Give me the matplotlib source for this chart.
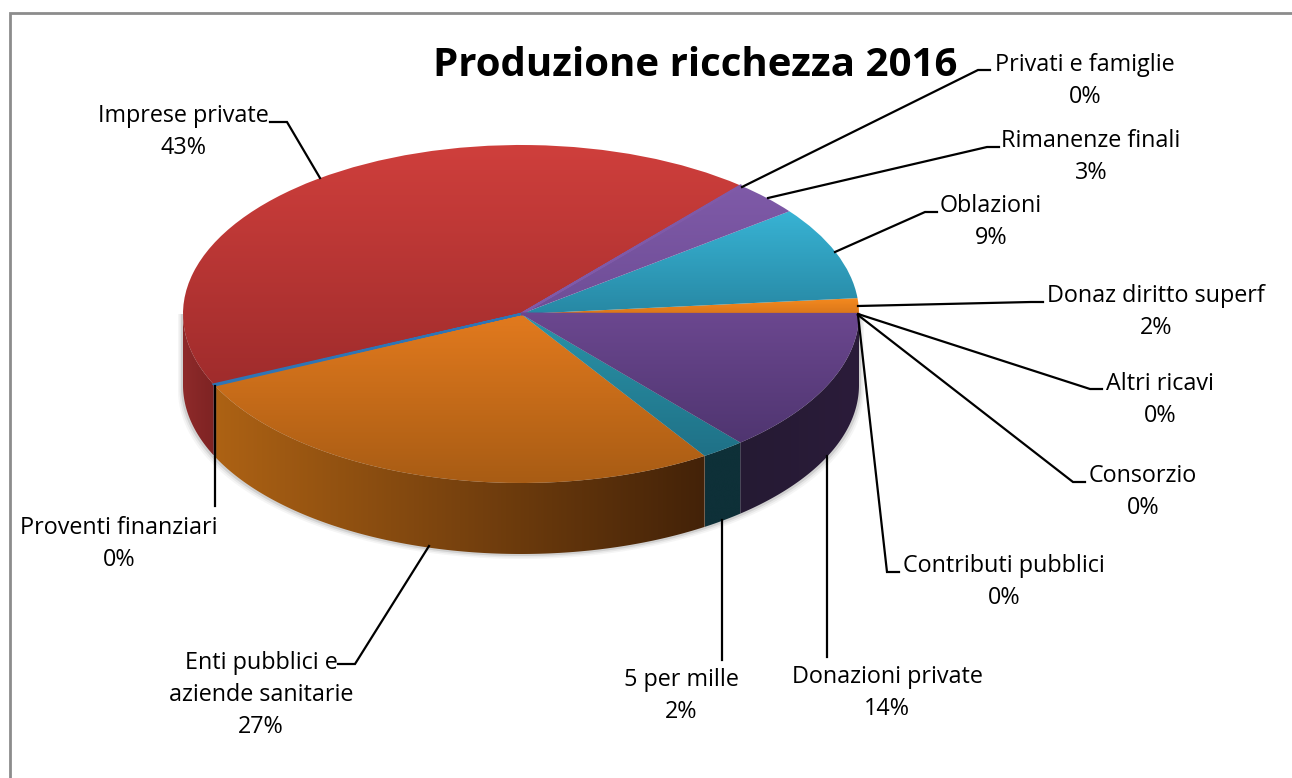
import numpy as np
import matplotlib
matplotlib.use("Agg")
import matplotlib.pyplot as plt
from matplotlib.patches import Polygon
from matplotlib.colors import LinearSegmentedColormap

plt.rcParams['font.family'] = ['Open Sans', 'DejaVu Sans']

categories = ["Donaz diritto superf", "Oblazioni", "Rimanenze finali", "Privati e famiglie",
              "Imprese private", "Proventi finanziari", "Enti pubblici e\naziende sanitarie",
              "5 per mille", "Donazioni private", "Contributi pubblici", "Consorzio", "Altri ricavi"]
values = [1.5, 8.9, 3.3, 0.05, 43.1, 0.1, 27.2, 2.1, 13.7, 0.02, 0.02, 0.02]
percent_labels = ["2%", "9%", "3%", "0%", "43%", "0%", "27%", "2%", "14%", "0%", "0%", "0%"]
title = "Produzione ricchezza 2016"

top_hi = ["#f58a1f", "#38b3d4", "#7f5aa8", "#7f5aa8", "#cf3f3c", "#2e75b6", "#e27a1e", "#2a93a8", "#6b478f", "#6b478f", "#6b478f", "#6b478f"]
top_lo = ["#d9761a", "#2788a4", "#6e4d96", "#6e4d96", "#a02c2c", "#2e75b6", "#a85c14", "#1f7187", "#4f3570", "#4f3570", "#4f3570", "#4f3570"]
wall_l = ["#f58a1f", "#38b3d4", "#7f5aa8", "#7f5aa8", "#8e2a2a", "#2e75b6", "#ad6214", "#0e3038", "#251a33", "#251a33", "#251a33", "#251a33"]
wall_r = ["#f58a1f", "#38b3d4", "#7f5aa8", "#7f5aa8", "#7e2323", "#2e75b6", "#432208", "#0e3038", "#2b1c3a", "#2b1c3a", "#2b1c3a", "#2b1c3a"]

W, H = 1292, 778
CX, CY, RX, RY, DEPTH = 521.0, 314.0, 338.0, 169.0, 71.0

fig = plt.figure(figsize=(W / 100, H / 100), dpi=100, facecolor="white")
ax = fig.add_axes([0, 0, 1, 1])


def px(x, y):
    return (x - CX) / RX, (CY - y) / RY


xlim = (px(0, 0)[0], px(W, 0)[0])
ylim = (px(0, H)[1], px(0, 0)[1])
d = DEPTH / RY


def grad_image(patch, c0, c1, horizontal, extent, z):
    cmap = LinearSegmentedColormap.from_list("g", [c0, c1])
    g = np.linspace(0, 1, 256)
    arr = g[None, :] if horizontal else g[:, None]
    im = ax.imshow(arr, cmap=cmap, extent=extent, origin="upper", aspect="auto",
                   zorder=z, interpolation="bilinear")
    im.set_clip_path(patch)


wedges, _ = ax.pie(values, startangle=0, radius=1, center=(0, 0), frame=True,
                   wedgeprops=dict(linewidth=0), normalize=True)
for w in wedges:
    w.set_zorder(4)

# soft shadow beneath the body
edges = np.cumsum([0] + values) / sum(values) * 360
t = np.radians(np.linspace(180, 360, 200))
sx, sy = np.cos(t), np.sin(t) - d
for off, a in [(5, 0.05), (3.5, 0.08), (2, 0.14)]:
    ox = off / RX
    oy = off / RY
    ax.add_patch(Polygon(np.r_[np.c_[sx * (1 + ox), sy - oy], [[1 + ox, 0], [-1 - ox, 0]]],
                         fc="#444444", ec="none", alpha=a, zorder=1))

# side walls
for i, w in enumerate(wedges):
    a0, a1 = edges[i], edges[i + 1]
    lo, hi = max(a0, 180), min(a1, 360)
    if hi <= lo:
        continue
    tt = np.radians(np.linspace(lo, hi, 120))
    xs, ys = np.cos(tt), np.sin(tt)
    poly = np.r_[np.c_[xs, ys], np.c_[xs[::-1], ys[::-1] - d]]
    p = Polygon(poly, closed=True, fc="none", ec="none", zorder=2)
    ax.add_patch(p)
    grad_image(p, wall_l[i], wall_r[i], True,
               (xs.min(), xs.max() + 1e-6, ys.min() - d, ys.max()), 2)

# top face with a vertical gradient
for i, w in enumerate(wedges):
    c0, c1 = top_hi[i], top_lo[i]
    if values[i] < 0.5:
        w.set_facecolor(c0)
        w.set_edgecolor(c0)
        w.set_linewidth(1.6)
        continue
    w.set_facecolor("none")
    a0, a1 = np.radians(edges[i]), np.radians(edges[i + 1])
    tt = np.linspace(a0, a1, 150)
    ymin = min(0, np.sin(tt).min())
    ymax = max(0, np.sin(tt).max())
    grad_image(w, c0, c1, False, (-1, 1, ymin, ymax), 3)

# the depth line of the tiny slice at the rim
x0, y0 = px(215, 386)
ax.plot([x0, x0], [y0, y0 - d], color="#2e75b6", lw=1.6, zorder=5, solid_capstyle="butt")

# leader lines: label side first, slice side last
leaders = [
    [(999, 147), (987, 147), (768, 198)],
    [(990, 70), (978, 70), (742, 187)],
    [(937, 212), (925, 212), (835, 252)],
    [(1043, 302), (1031, 302), (858, 306)],
    [(1102, 389), (1090, 389), (858, 314)],
    [(1085, 482), (1073, 482), (858, 315)],
    [(899, 572), (887, 572), (858, 315)],
    [(827, 657), (827, 456)],
    [(722, 660), (722, 520)],
    [(338, 664), (355, 664), (429, 546)],
    [(215, 506), (215, 386)],
    [(270, 122), (287, 122), (320, 178)],
]
for pts in leaders:
    xy = np.array([px(*p) for p in pts])
    ax.plot(xy[:, 0], xy[:, 1], color="black", lw=1.6, zorder=6, solid_joinstyle="miter")

# name centre x, name centre y
label_pos = {
    "Donaz diritto superf": (1156, 296.5),
    "Oblazioni": (991, 206),
    "Rimanenze finali": (1091, 141),
    "Privati e famiglie": (1085, 65),
    "Imprese private": (183, 116),
    "Proventi finanziari": (119, 528),
    "Enti pubblici e\naziende sanitarie": (261, 663),
    "5 per mille": (681, 680),
    "Donazioni private": (887, 677),
    "Contributi pubblici": (1004, 566),
    "Consorzio": (1143, 476),
    "Altri ricavi": (1160, 384),
}
for name, pct in zip(categories, percent_labels):
    lx, ly = label_pos[name]
    lines = name.split("\n") + [pct]
    for k, s in enumerate(lines):
        xx, yy = px(lx, ly + k * 32)
        ax.text(xx, yy, s, ha="center", va="center", fontsize=16.8, color="black", zorder=7)

tx, ty = px(695, 65)
ax.text(tx, ty, title, ha="center", va="center", fontsize=29, fontweight="bold", color="black", zorder=7)

# chart frame: only the top and left edges fall inside the picture
fx = [9.5, 9.5, W]
fy = [H, 12.5, 12.5]
bx = [px(a, 0)[0] for a in fx]
by = [px(0, b)[1] for b in fy]
ax.plot(bx, by, color="#8c8c8c", lw=2, zorder=8, solid_joinstyle="miter")

ax.set_aspect("auto")
ax.set_xlim(xlim)
ax.set_ylim(ylim)
ax.axis("off")
fig.savefig("out.png", dpi=100, facecolor="white")
